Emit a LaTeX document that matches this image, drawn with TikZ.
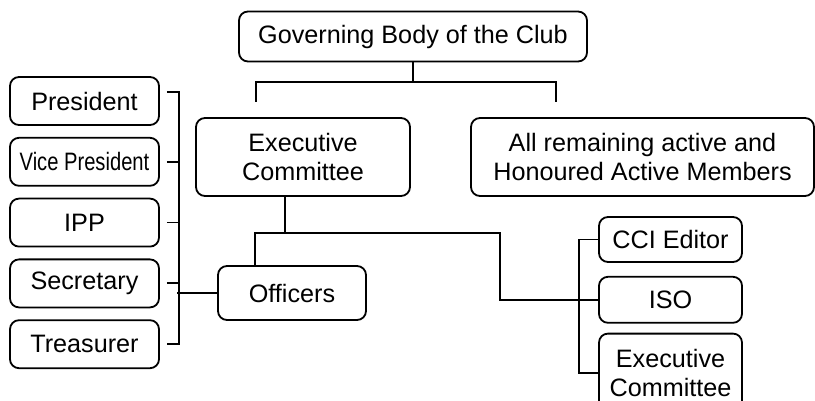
\documentclass[tikz,border=0pt]{standalone}
\usepackage{fontspec}
\setmainfont{Liberation Sans}
\usetikzlibrary{positioning}

\tikzset{
  box/.style={draw, rounded corners=4.5pt, line width=0.9pt,
    align=center, inner sep=0pt},
  postbox/.style={box, minimum width=74.5pt, minimum height=24pt},
  rolebox/.style={box, minimum width=71.5pt},
  link/.style={line width=0.9pt},
}

\begin{document}
\begin{tikzpicture}[x=0.5pt, y=-0.5pt,
    font=\fontsize{12.6}{14.5}\selectfont]
\useasboundingbox (0,0) rectangle (815,401);

% top level
\node [box,
    minimum width=174pt,
    minimum height=25pt
    ] (gov) at (413,36.5) {Governing Body of the Club};
\node [box,
    minimum width=107pt,
    minimum height=39pt
    ] (exec) at (303,157) {Executive\\Committee};
\node [box,
    minimum width=171.5pt,
    minimum height=39pt
    ] (rest) at (642.5,157) {All remaining active and\\Honoured Active Members};
\node [box,
    minimum width=74pt,
    minimum height=27pt
    ] (off) at (292,293) {Officers};

% officer posts
\node [postbox] (pres) at (84.5,101) {President};
\node [postbox, below=5.5pt of pres] (vice) {\scalebox{0.8}[1]{Vice President}};
\node [postbox, below=5.5pt of vice] (ipp) {IPP};
\node [postbox, below=5.5pt of ipp] (secy) {Secretary};
\node [postbox, below=5.5pt of secy] (treas) {Treasurer};

% other roles
\node [rolebox, minimum height=22.5pt] (cci) at (670.5,239.5) {CCI Editor};
\node [rolebox, minimum height=23pt, below=6.5pt of cci] (iso) {ISO};
\node [rolebox, minimum height=39pt, below=4.5pt of iso] (exectwo) {Executive\\Committee};

% governing body split
\coordinate (govl) at (256,102);
\coordinate (govr) at (556,102);
\draw[link] (gov.south) -- ++(0,-10pt);
\draw[link] (govl) |- ([yshift=-10pt]gov.south) -| (govr);

% executive branches
\coordinate (hub) at (285,233);
\coordinate (turn) at (500,233);
\draw[link] ([xshift=-9pt]exec.south) -- (hub);
\draw[link] (hub) -| ([xshift=-18.5pt]off.north);
\draw[link] (hub) -- (turn) |- (iso.west);

% bracket of posts
\draw[link] ([xshift=3.5pt,yshift=4.5pt]pres.east) -- ++(6pt,0)
    |- ([xshift=3.5pt]treas.east);
\draw[link] ([xshift=3.5pt]vice.east) -- ++(6pt,0);
\draw[link] ([xshift=3.5pt]ipp.east) -- ++(6pt,0);
\draw[link] ([xshift=3.5pt]secy.east) -- ++(6pt,0);
\draw[link] (off.west) -- ++(-20pt,0);

% bracket of roles
\draw[link] (cci.west) -- ++(-9.5pt,0) |- (exectwo.west);
\draw[link] (iso.west) -- ++(-9.5pt,0);
\end{tikzpicture}
\end{document}
